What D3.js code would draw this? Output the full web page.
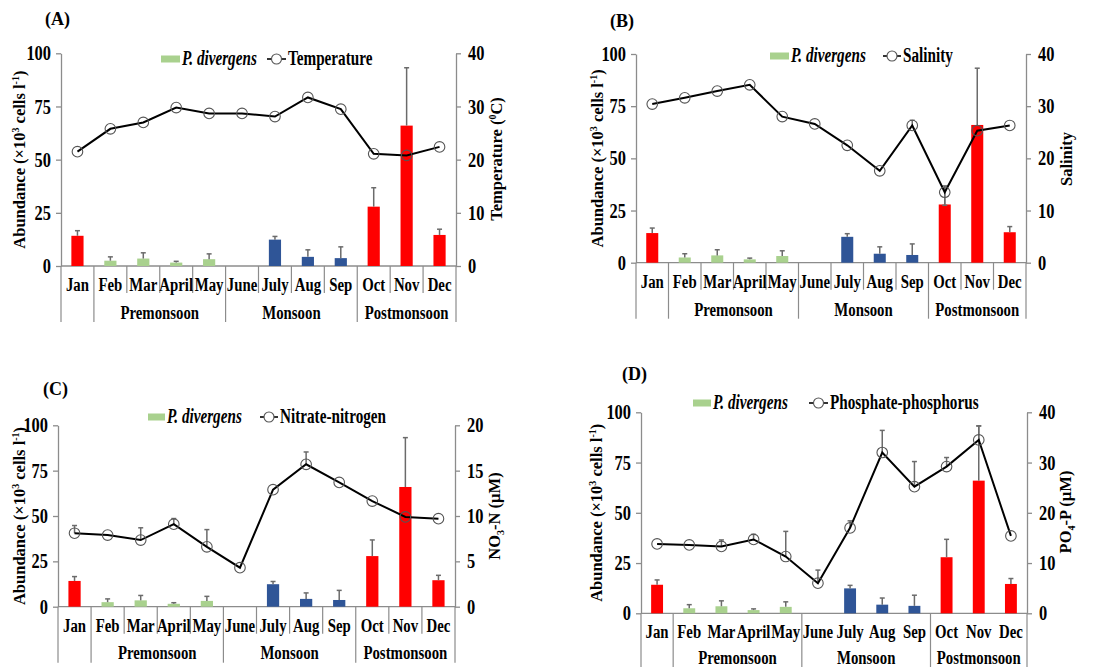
<!DOCTYPE html>
<html><head><meta charset="utf-8">
<script src="https://cdn.jsdelivr.net/npm/d3@7"></script>
<style>body{margin:0;background:#fff}svg{display:block}text{font-family:"Liberation Serif","Times New Roman",serif;fill:#000}</style>
</head><body>
<svg id="c" width="1110" height="667"></svg>
<script>
// ---------- data ----------
const months = ["Jan","Feb","Mar","April","May","June","July","Aug","Sep","Oct","Nov","Dec"];
const seasonLabels = ["", "Premonsoon", "Monsoon", "Postmonsoon"];
const seasonOfMonth = [0,1,1,1,1,2,2,2,2,3,3,3];
const abundance    = [14.2, 2.5, 3.5, 1.6, 3.2, 0, 12.4, 4.3, 3.7, 27.9, 66, 14.6];
const abundanceErr = [2.4, 1.8, 2.7, 0.6, 2.5, 0, 1.5, 3.3, 5.3, 8.9, 27.2, 2.7];
const temperature    = [21.5, 25.8, 27.0, 29.8, 28.7, 28.7, 28.1, 31.7, 29.5, 21.1, 20.8, 22.4];
const temperatureErr = [0,0,0,0,0,0,0,0,0,0,0,0];
const salinity    = [30.4, 31.6, 32.9, 34.1, 28.0, 26.6, 22.5, 17.6, 26.3, 13.5, 25.3, 26.3];
const salinityErr = [0,0,0,0,0,0,0,0,1.0,-2.5,0,0];
const nitrate    = [8.1, 7.9, 7.35, 9.1, 6.6, 4.3, 12.9, 15.7, 13.7, 11.65, 9.9, 9.7];
const nitrateErr = [0.85,0,1.35,0.62,1.9,0,0,1.36,0,0,0,0];
const phosphate    = [13.8, 13.6, 13.3, 14.7, 11.3, 6.0, 17.0, 32.0, 25.2, 29.2, 34.5, 15.4];
const phosphateErr = [0,0,1.3,1.0,5.0,2.6,1.4,4.4,5.0,1.8,2.8,0];
const leftTicks = [0,25,50,75,100];
const ticks40 = [0,10,20,30,40];
const ticks20 = [0,5,10,15,20];
const barLegend = "P. divergens";

// ---------- styles ----------
const seasonColors = ["#ff0000","#a9d18e","#2f5597","#ff0000"];
const axisColor = "#8c8c8c";
const SX = 0.76;

const svg = d3.select("#c");

function stext(g, x, y, txt, o={}) {
  const t = g.append("text")
    .attr("transform", `translate(${x},${y}) scale(${o.sx ?? SX},1)`)
    .attr("text-anchor", o.anchor || "middle")
    .attr("font-size", o.size || 19.5)
    .attr("font-weight", o.weight || "bold")
    .attr("font-style", o.style || "normal");
  if (txt !== null) t.text(txt);
  return t;
}

const panels = [
  { tag:"(A)", tagX:45, tagY:25, left:61, right:456, top:53.3, bottom:266,
    series:temperature, err:temperatureErr, rmax:40, rticks:ticks40, name:"Temperature",
    legY:59, legRect:161, legText:182, legLine:267, legName:288,
    lTitleX:19, rTitleX:496, rTitle:"temp", rTitleY:159, seasonOff:53 },
  { tag:"(B)", tagX:610, tagY:27, left:636, right:1026, top:54, bottom:262.7,
    series:salinity, err:salinityErr, rmax:40, rticks:ticks40, name:"Salinity",
    legY:56, legRect:770, legText:791, legLine:883, legName:903,
    lTitleX:597, rTitleX:1066, rTitle:"sal", rTitleY:159, seasonOff:53 },
  { tag:"(C)", tagX:43, tagY:395, left:58, right:455, top:425.3, bottom:606.7,
    series:nitrate, err:nitrateErr, rmax:20, rticks:ticks20, name:"Nitrate-nitrogen",
    legY:417, legRect:148, legText:167, legLine:260, legName:280,
    lTitleX:19, rTitleX:494, rTitle:"no3", rTitleY:516, seasonOff:52.5 },
  { tag:"(D)", tagX:622, tagY:380, left:641, right:1027, top:412.3, bottom:613.3,
    series:phosphate, err:phosphateErr, rmax:40, rticks:ticks40, name:"Phosphate-phosphorus",
    legY:403, legRect:693, legText:713, legLine:809, legName:830,
    lTitleX:596, rTitleX:1065, rTitle:"po4", rTitleY:512, noMonthSep:true, seasonOff:50.5 }
];

panels.forEach(p => {
  const g = svg.append("g");
  const x = d3.scaleBand().domain(months).range([p.left, p.right]).padding(0);
  const yL = d3.scaleLinear().domain([0,100]).range([p.bottom, p.top]);
  const yR = d3.scaleLinear().domain([0,p.rmax]).range([p.bottom, p.top]);
  const bw = x.bandwidth();
  const barW = bw * 0.37;

  // panel tag
  g.append("text").attr("x", p.tagX).attr("y", p.tagY).attr("font-size", 18)
    .attr("font-weight","bold").text(p.tag);

  // axes
  const la = g.append("g").attr("transform", `translate(${p.left},0)`)
    .call(d3.axisLeft(yL).tickValues(leftTicks).tickSize(5).tickSizeOuter(0).tickPadding(5));
  const ra = g.append("g").attr("transform", `translate(${p.right},0)`)
    .call(d3.axisRight(yR).tickValues(p.rticks).tickSize(5).tickSizeOuter(0).tickPadding(7));
  [la, ra].forEach(a => {
    a.select(".domain").attr("stroke", axisColor).attr("stroke-width", 1.3);
    a.selectAll(".tick line").attr("stroke", axisColor).attr("stroke-width", 1.3);
    a.selectAll(".tick text").attr("font-size", 20.5).attr("font-weight","bold")
      .attr("font-family", '"Liberation Serif","Times New Roman",serif').attr("fill","#000")
      .each(function(){ const t = d3.select(this); t.attr("x", (+t.attr("x"))/0.8).attr("transform", `scale(0.8,1)`); });
  });
  // baseline
  g.append("line").attr("x1", p.left).attr("x2", p.right).attr("y1", yL(0)).attr("y2", yL(0))
    .attr("stroke", axisColor).attr("stroke-width", 1.3);

  // category separators
  const edges = d3.range(months.length + 1).map(i => i < months.length ? x(months[i]) : p.right);
  edges.forEach((ex, i) => {
    const isBoundary = i === 0 || i === months.length || seasonOfMonth[i] !== seasonOfMonth[i-1];
    if (!isBoundary && p.noMonthSep) return;
    g.append("line").attr("x1", ex).attr("x2", ex).attr("y1", yL(0))
      .attr("y2", yL(0) + (isBoundary ? 56 : 27)).attr("stroke", axisColor).attr("stroke-width", 1.2);
  });

  // month labels
  months.forEach(m => stext(g, x(m) + bw/2, yL(0) + 25, m));
  // season labels
  seasonLabels.forEach((s, si) => {
    if (!s) return;
    const idx = seasonOfMonth.map((v,i)=>v===si?i:-1).filter(i=>i>=0);
    const x0 = x(months[idx[0]]), x1 = x(months[idx[idx.length-1]]) + bw;
    stext(g, (x0+x1)/2, yL(0) + p.seasonOff, s);
  });

  // bars
  abundance.forEach((v, i) => {
    const cx = x(months[i]) + bw/2;
    if (v > 0) {
      g.append("rect").attr("x", cx - barW/2).attr("width", barW)
        .attr("y", yL(v)).attr("height", yL(0) - yL(v)).attr("fill", seasonColors[seasonOfMonth[i]]);
    }
    if (abundanceErr[i] > 0) {
      const y1 = yL(v), y2 = yL(v + abundanceErr[i]);
      g.append("line").attr("x1", cx).attr("x2", cx).attr("y1", y1).attr("y2", y2).attr("stroke", "#6b6b6b").attr("stroke-width", 1.5);
      g.append("line").attr("x1", cx-2.5).attr("x2", cx+2.5).attr("y1", y2).attr("y2", y2).attr("stroke", "#6b6b6b").attr("stroke-width", 1.5);
    }
  });

  // line series error bars
  p.series.forEach((v, i) => {
    const e = p.err[i]; if (!e) return;
    const cx = x(months[i]) + bw/2;
    const y1 = yR(v), y2 = yR(v + e);
    g.append("line").attr("x1", cx).attr("x2", cx).attr("y1", y1).attr("y2", y2).attr("stroke", "#6b6b6b").attr("stroke-width", 1.5);
    g.append("line").attr("x1", cx-2.5).attr("x2", cx+2.5).attr("y1", y2).attr("y2", y2).attr("stroke", "#6b6b6b").attr("stroke-width", 1.5);
  });

  // line
  const line = d3.line().x((d,i) => x(months[i]) + bw/2).y(d => yR(d));
  g.append("path").datum(p.series).attr("d", line).attr("fill","none").attr("stroke","#000").attr("stroke-width", 2);
  g.selectAll(null).data(p.series).join("circle")
    .attr("cx", (d,i) => x(months[i]) + bw/2).attr("cy", d => yR(d)).attr("r", 5.3)
    .attr("fill","none").attr("stroke","#555").attr("stroke-width", 1.1);

  // legend
  g.append("rect").attr("x", p.legRect).attr("y", p.legY - 3.5).attr("width", p.legText - p.legRect - 2).attr("height", 7).attr("fill", seasonColors[1]);
  stext(g, p.legText, p.legY + 6, barLegend, {anchor:"start", style:"italic", size:20});
  g.append("line").attr("x1", p.legLine).attr("x2", p.legName - 2).attr("y1", p.legY).attr("y2", p.legY).attr("stroke","#000").attr("stroke-width",1.6);
  g.append("circle").attr("cx", (p.legLine + p.legName - 2)/2).attr("cy", p.legY).attr("r", 5).attr("fill","#fff").attr("stroke","#555").attr("stroke-width",1.1);
  stext(g, p.legName, p.legY + 6, p.name, {anchor:"start", size:20});

  // left title
  const lt = g.append("text")
    .attr("transform", `translate(${p.lTitleX},${(p.top+p.bottom)/2}) rotate(-90)`)
    .attr("text-anchor","middle").attr("dy","0.35em").attr("font-size",16.5).attr("font-weight","bold");
  lt.append("tspan").text("Abundance (×10");
  lt.append("tspan").attr("font-size",10).attr("dy",-6).text("3");
  lt.append("tspan").attr("dy",6).text(" cells l");
  lt.append("tspan").attr("font-size",10).attr("dy",-6).text("-1");
  lt.append("tspan").attr("dy",6).text(")");

  // right title
  const rt = g.append("text")
    .attr("transform", `translate(${p.rTitleX},${p.rTitleY}) rotate(-90)`)
    .attr("text-anchor","middle").attr("dy","0.35em").attr("font-size",16.5).attr("font-weight","bold");
  if (p.rTitle === "temp") {
    rt.append("tspan").text("Temperature (");
    rt.append("tspan").attr("font-size",10).attr("dy",-6).text("0");
    rt.append("tspan").attr("dy",6).text("C)");
  } else if (p.rTitle === "sal") {
    rt.text("Salinity");
  } else if (p.rTitle === "no3") {
    rt.append("tspan").text("NO");
    rt.append("tspan").attr("font-size",10).attr("dy",4).text("3");
    rt.append("tspan").attr("dy",-4).text("-N (µM)");
  } else {
    rt.append("tspan").text("PO");
    rt.append("tspan").attr("font-size",10).attr("dy",4).text("4");
    rt.append("tspan").attr("dy",-4).text("-P (µM)");
  }
});
</script>
</body></html>
